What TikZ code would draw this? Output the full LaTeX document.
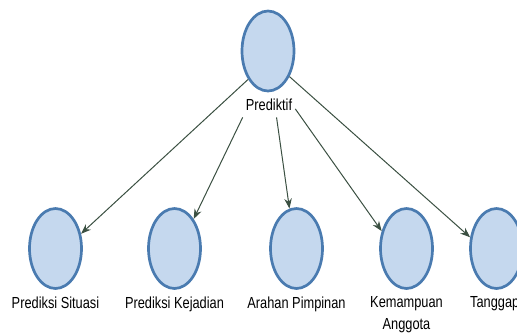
\documentclass[tikz,border=0pt]{standalone}
\usepackage{fontspec}
\newfontfamily\lblfont[FakeStretch=0.8]{Liberation Sans}
\usetikzlibrary{shapes.geometric}
\usetikzlibrary{arrows.meta}
\definecolor{bubblefill}{RGB}{197,216,238}
\definecolor{bubbleline}{RGB}{74,123,176}
\definecolor{linkcol}{RGB}{59,80,66}
\tikzset{
    bubble/.style={ellipse, draw=bubbleline, fill=bubblefill, line width=2.7pt, minimum width=52pt, minimum height=80pt, inner sep=0pt}, % lingkaran konsep
    caption/.style={font=\lblfont\fontsize{16}{22}\selectfont, anchor=north, inner sep=1pt, align=center}, % teks di bawah lingkaran
    link/.style={draw=linkcol, line width=1pt, -{Stealth[length=10pt,width=7.5pt]}} % panah hubungan
}

\begin{document}
\begin{tikzpicture}[x=1pt,y=-1pt]
          \useasboundingbox (0,0) rectangle (517,333);
          \clip (0,0) rectangle (517,333);

          % --- 1. simpul induk ---
          \node[bubble] (pred) at (268,51) {};
          \node[caption, anchor=base, inner xsep=3pt, inner ysep=7pt] (predl) at (269,110) {Prediktif};

          % --- 2. simpul anak: \x / nama / teks ---
          \foreach \x / \nm / \txt in {
              55.5/sit/{Prediksi Situasi},
              174.5/kej/{Prediksi Kejadian},
              296.5/ara/{Arahan Pimpinan},
              406.5/kem/{Kemampuan\\Anggota},
              496.5/tan/{Tanggap}
          } {
              \node[bubble] (\nm) at (\x, 248.5) {};
              \node[caption] (\nm l) at (\x, 295.5) {\txt};
          }

          % --- 3. panah ---
          \draw[link] (pred.235) -- (sit.30);
          \draw[link] (predl.south west) -- (kej.57);
          \draw[link] (predl.-60) -- (ara.100);
          \draw[link] (predl.-10) -- (kem.145);
          \draw[link] (pred.310) -- (tan.157);

      \end{tikzpicture}
\end{document}
